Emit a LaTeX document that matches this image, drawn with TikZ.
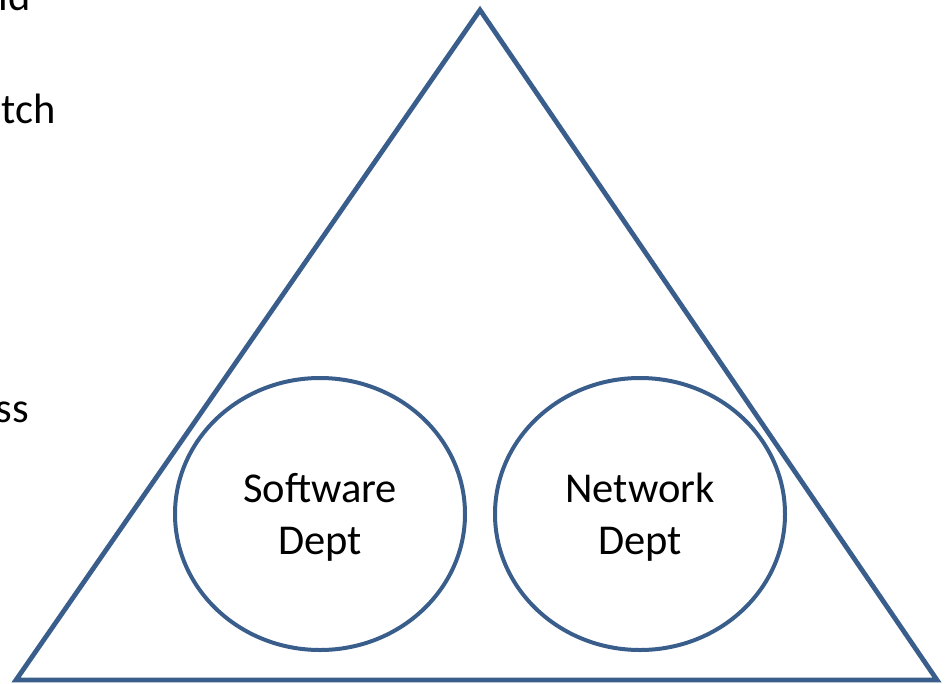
\documentclass[tikz,border=0pt]{standalone}
\usepackage{fontspec}
\setmainfont{Carlito}
\usetikzlibrary{shapes.geometric}
\definecolor{outline}{RGB}{58,94,140}
\begin{document}
\begin{tikzpicture}[x=1pt,y=-1pt,
  dept/.style={ellipse,draw=outline,line width=4pt,minimum width=290pt,minimum height=272pt,inner sep=0pt},
  depttext/.style={inner sep=0pt,align=center,font=\fontsize{42.5}{52}\selectfont},
  frag/.style={anchor=base east,inner sep=0pt,font=\fontsize{42.5}{52}\selectfont}]
\useasboundingbox (0,0) rectangle (948,683);
\coordinate (apex) at (480,10);
\coordinate (bl) at (16,680);
\coordinate (br) at (937,680);
\draw[outline,line width=4.8pt] (apex) -- (bl) -- (br) -- cycle;
\node[dept] (sw) at (320,514) {};
\node[dept] (nw) at (640,514) {};
\node[depttext] (swt) at ([yshift=-3.5pt]sw.center) {Software\\Dept};
\node[depttext] (nwt) at ([yshift=-3.5pt]nw.center) {Network\\Dept};
\node[frag] (f1) at (31,10) {ld};
\node[frag] (f2) at (56,123) {tch};
\node[frag] (f3) at (29,422) {ss};
\end{tikzpicture}
\end{document}
